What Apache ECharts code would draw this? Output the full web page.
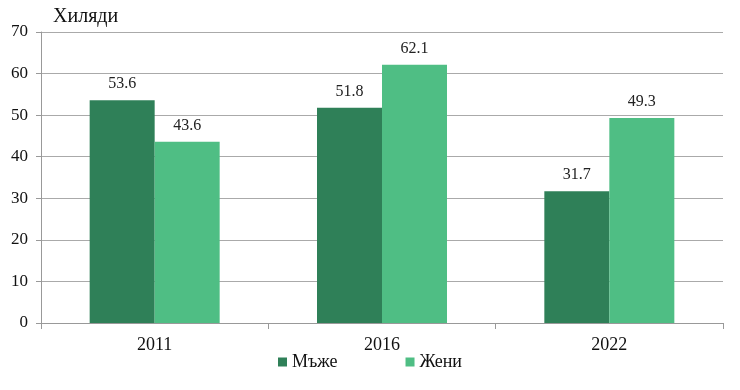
<!DOCTYPE html>
<html><head><meta charset="utf-8">
<script src="https://cdn.jsdelivr.net/npm/echarts@6/dist/echarts.min.js"></script>
<style>html,body{margin:0;padding:0;background:#fff}#c{width:740px;height:390px}</style>
</head><body><div id="c"></div>
<script>
const categories = ['2011', '2016', '2022'];
const men = [53.6, 51.8, 31.7];
const women = [43.6, 62.1, 49.3];
const seriesNames = ['Мъже', 'Жени'];
const unitLabel = 'Хиляди';

const font = '"Liberation Serif", "Times New Roman", serif';
const chart = echarts.init(document.getElementById('c'));
const lbl = {show: true, position: 'top', distance: 8, color: '#222', fontFamily: font, fontSize: 16, formatter: p => p.value.toFixed(1)};
chart.setOption({
  animation: false,
  textStyle: {fontFamily: font},
  title: {text: unitLabel, left: 48, top: 2, textStyle: {fontFamily: font, fontSize: 20, fontWeight: 'normal', color: '#111'}},
  legend: {bottom: 14, left: 'center', itemWidth: 9, itemHeight: 9, itemGap: 68, icon: 'rect',
    textStyle: {fontFamily: font, fontSize: 18, color: '#111'}, data: seriesNames},
  grid: {left: 41, right: 17, top: 32, bottom: 67},
  xAxis: {type: 'category', data: categories,
    axisLine: {lineStyle: {color: '#999'}},
    axisTick: {show: true, length: 6, lineStyle: {color: '#999'}},
    axisLabel: {color: '#111', fontFamily: font, fontSize: 18, margin: 13}},
  yAxis: {type: 'value', min: 0, max: 70, interval: 10,
    axisLine: {show: true, lineStyle: {color: '#999'}},
    axisTick: {show: true, length: 5, lineStyle: {color: '#999'}},
    splitLine: {lineStyle: {color: '#aaa'}},
    axisLabel: {color: '#111', fontFamily: font, fontSize: 17, margin: 13}},
  series: [
    {name: seriesNames[0], type: 'bar', data: men, barWidth: 65, barGap: '0%', itemStyle: {color: '#2f8058'}, label: lbl},
    {name: seriesNames[1], type: 'bar', data: women, barWidth: 65, itemStyle: {color: '#4fbe84'}, label: lbl}
  ]
});
</script></body></html>
